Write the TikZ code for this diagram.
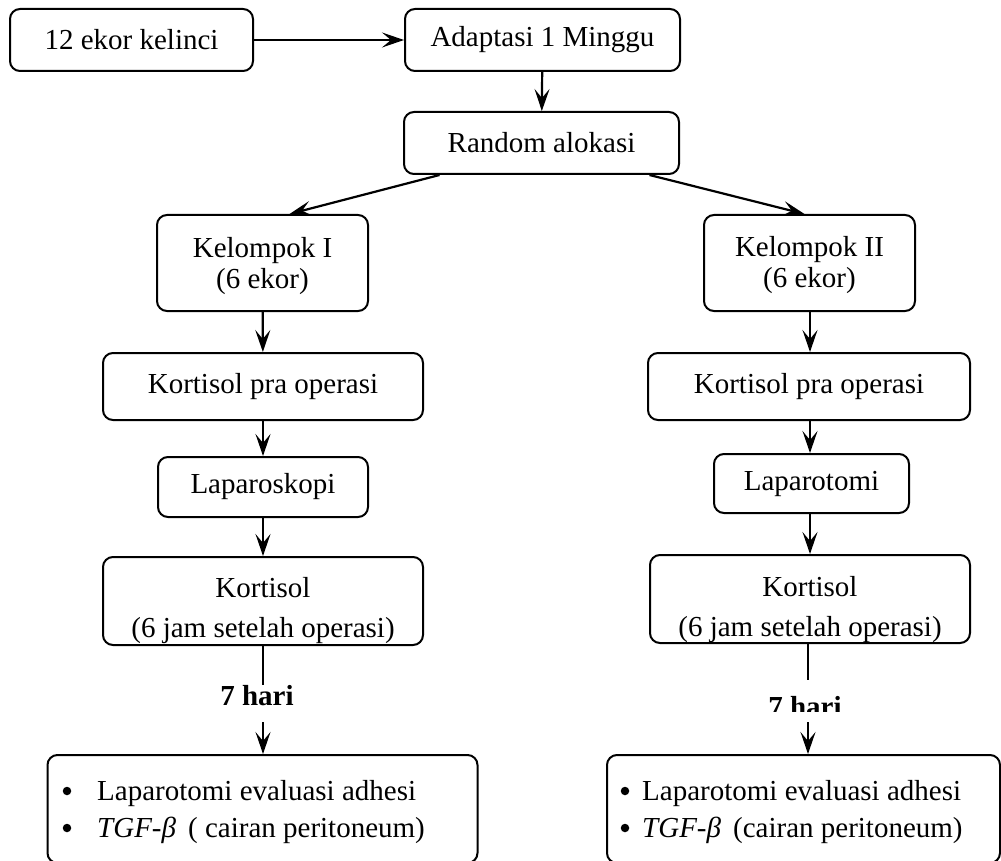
\documentclass[tikz,border=0pt]{standalone}
\usepackage{fontspec}
\setmainfont{Liberation Serif}
\usetikzlibrary{arrows.meta,calc}
\begin{document}
\begin{tikzpicture}[x=1pt,y=-1pt,
  box/.style={draw,line width=2pt,rounded corners=10pt,inner sep=0pt,align=center,font=\fontsize{29}{32}\selectfont},
  txt/.style={inner sep=0pt,font=\fontsize{29}{33}\selectfont},
  dot/.style={circle,fill,inner sep=0pt,minimum size=8.5pt},
  arr/.style={line width=2.2pt,-{Stealth[length=22pt,width=15pt,inset=9pt]}},
  ln/.style={line width=2pt}]
\useasboundingbox (0,0) rectangle (1001,861);
\clip (0,0) rectangle (1001,861);

% top row
\node[box,minimum width=243pt,minimum height=62pt] (a) at (131.5,40) {12 ekor kelinci};
\node[box,minimum width=275pt,minimum height=62pt] (b) at (542.5,40) {Adaptasi 1 Minggu};
\node[box,minimum width=275pt,minimum height=62pt] (c) at (541.5,143) {Random alokasi};

% groups
\node[box,minimum width=211pt,minimum height=96pt] (k1) at (262.5,263) {};
\node[txt,anchor=base] (k1a) at (262.5,257) {Kelompok I};
\node[txt,anchor=base] (k1b) at (262.5,288) {(6 ekor)};
\node[box,minimum width=211pt,minimum height=96pt] (k2) at (809.5,263) {};
\node[txt,anchor=base] (k2a) at (809.5,256) {Kelompok II};
\node[txt,anchor=base] (k2b) at (809.5,287) {(6 ekor)};

\node[box,minimum width=320pt,minimum height=67pt] (p1) at (263,386.5) {Kortisol pra operasi};
\node[box,minimum width=322pt,minimum height=67pt] (p2) at (809,386.5) {Kortisol pra operasi};

\node[box,minimum width=210pt,minimum height=60pt] (l1) at (263,487) {Laparoskopi};
\node[box,minimum width=195pt,minimum height=59pt] (l2) at (811.5,483.5) {Laparotomi};

\node[box,minimum width=320pt,minimum height=88pt] (s1) at (263,601) {};
\node[box,minimum width=320pt,minimum height=88pt] (s2) at (810,599) {};
\begin{scope}
  \clip (103,555) rectangle (423,644);
  \node[txt,anchor=base] (s1a) at (263,597) {Kortisol};
  \node[txt,anchor=base] (s1b) at (263,637) {(6 jam setelah operasi)};
\end{scope}
\begin{scope}
  \clip (650,553) rectangle (970,642);
  \node[txt,anchor=base] (s2a) at (810,596) {Kortisol};
  \node[txt,anchor=base] (s2b) at (810,636) {(6 jam setelah operasi)};
\end{scope}

% bottom boxes
\node[box,minimum width=430pt,minimum height=108pt] (e1) at (262.5,809) {};
\node[box,minimum width=393pt,minimum height=108pt] (e2) at (803.5,809) {};
\node[dot] (e1d1) at (67,791) {};
\node[txt,anchor=base west] (e1t1) at (97,800) {Laparotomi evaluasi adhesi};
\node[dot] (e1d2) at (67,828) {};
\node[txt,anchor=base west] (e1t2) at (97,837) {\textit{TGF-β}\,\ ( cairan peritoneum)};
\node[dot] (e2d1) at (625,791) {};
\node[txt,anchor=base west] (e2t1) at (642,800) {Laparotomi evaluasi adhesi};
\node[dot] (e2d2) at (625,828) {};
\node[txt,anchor=base west] (e2t2) at (642,837) {\textit{TGF-β}\,\ (cairan peritoneum)};

% 7 hari labels
\node[txt,font=\fontsize{29}{33}\selectfont\bfseries,anchor=base] (h1) at (257,705) {7 hari};
\begin{scope}
  \clip (700,680) rectangle (900,711);
  \node[txt,font=\fontsize{29}{33}\selectfont\bfseries,anchor=base] (h2) at (805,716) {7 hari};
\end{scope}
\coordinate (t1) at (263,685);
\coordinate (u1) at (263,722);
\coordinate (t2) at (808,680);
\coordinate (u2) at (808,722);

% connectors
\draw[arr] (a) -- (b);
\draw[arr] (b) -- (c);
\draw[arr] ([xshift=-102pt]c.south) -- ([xshift=27pt]k1.north);
\draw[arr] ([xshift=108pt]c.south) -- ([xshift=-5pt]k2.north);
\draw[arr] (k1) -- (p1);
\draw[arr] (p1) -- (l1);
\draw[arr] (l1) -- (l1 |- s1.north);
\draw[arr] (k2.south -| s2.north) -- (s2.north |- p2.north);
\draw[arr] (p2.south -| s2.north) -- (s2.north |- l2.north);
\draw[arr] (s2.north |- l2.south) -- (s2.north);
\draw[ln] (s1.south -| t1) -- (t1);
\draw[arr] (u1) -- (u1 |- e1.north);
\draw[ln] (s2.south -| t2) -- (t2);
\draw[arr] (u2) -- (u2 |- e2.north);
\end{tikzpicture}
\end{document}
